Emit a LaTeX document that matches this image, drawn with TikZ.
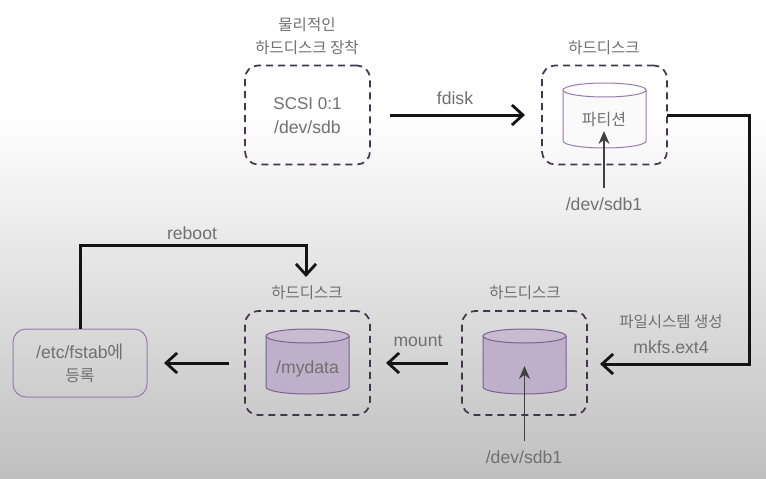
\documentclass[tikz,border=0pt]{standalone}
\usepackage{fontspec}
\setmainfont{Liberation Sans}
\newfontfamily\kr{Noto Sans CJK KR}
\usetikzlibrary{arrows.meta,calc}
\definecolor{dashc}{HTML}{43364F}
\definecolor{txt}{HTML}{707070}
\definecolor{cylline}{HTML}{9A78B0}
\definecolor{cylline2}{HTML}{7D5F92}
\definecolor{cylfill}{HTML}{BFB0CA}
\definecolor{cyltop}{HTML}{C8BBD1}
\tikzset{
  dbox/.style={draw=dashc,line width=1.7pt,dash pattern=on 7pt off 5pt,rounded corners=13pt,minimum width=125pt,minimum height=99pt,inner sep=0pt,outer sep=0pt},
  diskbox/.style={minimum width=83pt,minimum height=65pt,inner sep=0pt,outer sep=0pt},
  lbl/.style={text=txt,font=\fontsize{17.6}{24}\selectfont,inner sep=0pt,align=center},
  klbl/.style={text=txt,font=\kr\fontsize{15.5}{23}\selectfont,inner sep=0pt,align=center},
  flow/.style={draw=black!92,line width=3pt,-{Straight Barb[length=11pt,width=20pt,line width=2.8pt]}},
  ptr/.style={draw=black!75,line width=1.3pt,-{Stealth[length=13pt,width=11pt]}},
}
% #1 name of the box node, #2 body fill, #3 top fill, #4 line colour
\newcommand\diskdraw[4]{%
  \coordinate (#1tl) at ($(#1.north west)+(0,7)$);
  \coordinate (#1tr) at ($(#1.north east)+(0,7)$);
  \coordinate (#1bl) at ($(#1.south west)+(0,-7)$);
  \coordinate (#1br) at ($(#1.south east)+(0,-7)$);
  \fill[#2] (#1tl) -- (#1bl)
     .. controls ($(#1bl)+(0,3.9)$) and ($(#1.south)+(-22.8,0)$) .. (#1.south)
     .. controls ($(#1.south)+(22.8,0)$) and ($(#1br)+(0,3.9)$) .. (#1br) -- (#1tr) -- cycle;
  \draw[#4,line width=1pt] (#1tl) -- (#1bl)
     .. controls ($(#1bl)+(0,3.9)$) and ($(#1.south)+(-22.8,0)$) .. (#1.south)
     .. controls ($(#1.south)+(22.8,0)$) and ($(#1br)+(0,3.9)$) .. (#1br) -- (#1tr);
  \filldraw[fill=#3,draw=#4,line width=1pt] (#1tl)
     .. controls ($(#1tl)+(0,-3.9)$) and ($(#1.north)+(-22.8,0)$) .. (#1.north)
     .. controls ($(#1.north)+(22.8,0)$) and ($(#1tr)+(0,-3.9)$) .. (#1tr)
     .. controls ($(#1tr)+(0,3.9)$) and ($(#1.north)+(22.8,14)$) .. ($(#1.north)+(0,14)$)
     .. controls ($(#1.north)+(-22.8,14)$) and ($(#1tl)+(0,3.9)$) .. (#1tl) -- cycle;
}
\begin{document}
\begin{tikzpicture}[x=1pt,y=-1pt]
\useasboundingbox (0,0) rectangle (766,479);
\fill[white] (0,0) rectangle (766,115);
\shade[top color=white,bottom color=black!25] (0,115) rectangle (766,479);

\node[dbox] (b1) at (307.5,115) {};
\node[dbox] (b2) at (604.5,115) {};
\node[dbox,minimum height=104pt] (b3) at (307.5,363) {};
\node[dbox,minimum height=104pt] (b4) at (524.5,363) {};

\node[diskbox] (c2) at (604.5,115.5) {};
\node[diskbox] (c3) at (307.5,361.5) {};
\node[diskbox] (c4) at (524.5,361.5) {};
\diskdraw{c2}{white!98!black}{white}{cylline}
\diskdraw{c3}{cylfill}{cyltop}{cylline2}
\diskdraw{c4}{cylfill}{cyltop}{cylline2}

\node[draw=cylline,line width=1pt,rounded corners=13pt,minimum width=134pt,minimum height=68pt,inner sep=0pt,outer sep=0pt] (fs) at (80,363) {};

\node[klbl] (t1) at (307,36) {물리적인\\하드디스크 장착};
\node[lbl] (s1) at (307.5,115.5) {\fontsize{17}{24}\selectfont SCSI 0:1\\/dev/sdb};
\node[lbl] (fd) at (455,98) {fdisk};
\node[klbl] (t2) at (604,47.5) {하드디스크};
\node[klbl,font=\kr\fontsize{16}{24}\selectfont] (p) at (604,119.5) {파티션};
\node[lbl] (d2) at (604,204) {/dev/sdb1};
\node[lbl] (rb) at (192,233) {reboot};
\node[klbl] (t3) at (307,293) {하드디스크};
\node[klbl] (t4) at (525,293) {하드디스크};
\node[lbl] (md) at (307.5,369) {/mydata};
\node[lbl] (mt) at (418,341) {mount};
\node[klbl] (mk) at (671,321.5) {파일시스템 생성};
\node[lbl] (ex) at (671,347) {mkfs.ext4};
\node[lbl] (d4) at (524,457) {/dev/sdb1};
\node[lbl] (ft) at (80,363.5) {/etc/fstab{\kr 에}\\[-1pt]{\kr\fontsize{16}{20}\selectfont 등록}};

\coordinate (a1s) at (390,115);
\coordinate (a1e) at (525,115);
\coordinate (k1) at (749,115);
\coordinate (k2) at (749,364);
\coordinate (a2e) at (600,364);
\coordinate (a3s) at (448,363);
\coordinate (a3e) at (386,363);
\coordinate (a4s) at (229,363);
\coordinate (a4e) at (164,363);
\coordinate (k3) at (80,245);
\coordinate (k4) at (306,245);
\coordinate (a5e) at (306,277);
\coordinate (p2s) at (604,188);
\coordinate (p2e) at (604,131);
\coordinate (p4s) at (524.5,441);
\coordinate (p4e) at (524.5,366);

\draw[flow] (a1s) -- (a1e);
\draw[flow] (b2.east) -- (k1) -- (k2) -- (a2e);
\draw[flow] (a3s) -- (a3e);
\draw[flow] (a4s) -- (a4e);
\draw[flow] (fs.north -| k3) -- (k3) -- (k4) -- (a5e);
\draw[ptr] (p2s) -- (p2e);
\draw[ptr] (p4s) -- (p4e);
\end{tikzpicture}
\end{document}
